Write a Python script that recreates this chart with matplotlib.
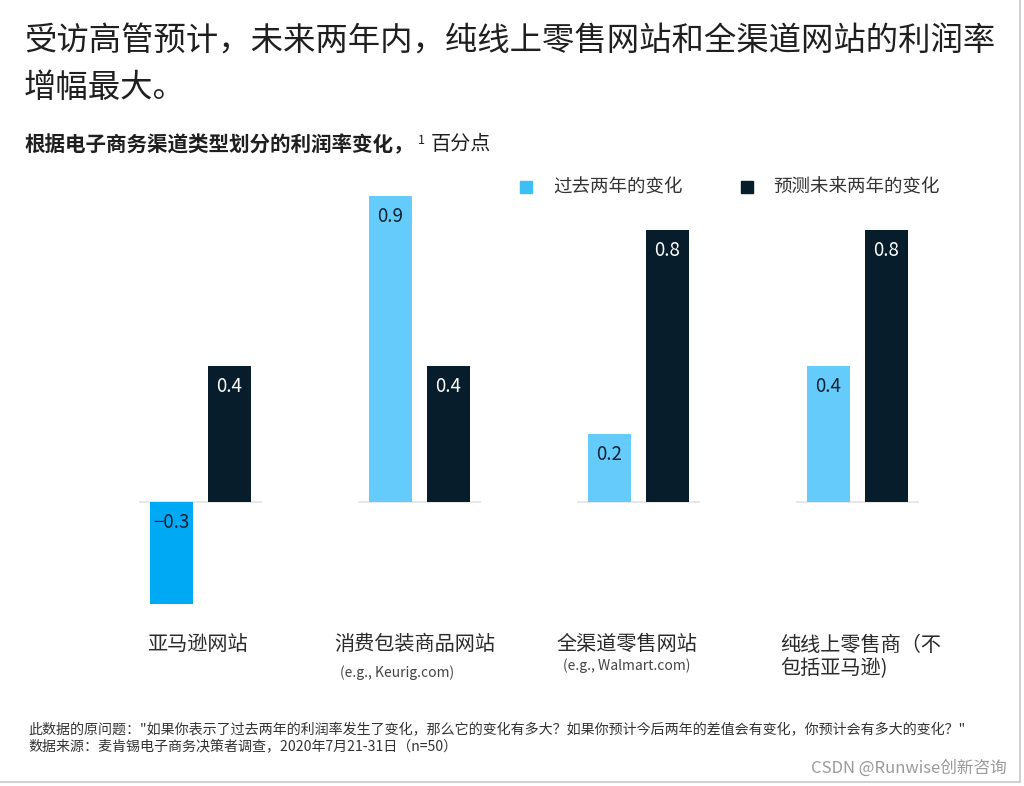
import numpy as np
import matplotlib
matplotlib.use("Agg")
import matplotlib.pyplot as plt
from matplotlib.lines import Line2D

plt.rcParams['font.family'] = ['Noto Sans CJK SC', 'DejaVu Sans']

categories = ["亚马逊网站", "消费包装商品网站", "全渠道零售网站", "纯线上零售商（不\n包括亚马逊)"]
examples = ["", "(e.g., Keurig.com)", "(e.g., Walmart.com)", ""]
past = [-0.3, 0.9, 0.2, 0.4]
future = [0.4, 0.4, 0.8, 0.8]
series_names = ["过去两年的变化", "预测未来两年的变化"]
past_labels = ["−0.3", "0.9", "0.2", "0.4"]
future_labels = ["0.4", "0.4", "0.8", "0.8"]

W, H = 1024, 786
light = "#64CBFA"
neg = "#00A9F4"
dark = "#071D2C"
txt = "#1F1F1F"


def fx(px):
    return px / W


def fy(py):
    return 1 - py / H


fig = plt.figure(figsize=(W / 100, H / 100), dpi=100)
ax = fig.add_axes([0, 0, 1, 1])
ax.axis('off')
# group spacing 219px, baseline at y=502px, 340px per unit
ax.set_xlim(-200 / 219, 824 / 219)
ax.set_ylim(-(H - 502) / 340, 502 / 340)

x = np.arange(len(categories))
off = 29 / 219
bw = 43 / 219
past_colors = [neg if v < 0 else light for v in past]
ax.bar(x - off, past, bw, color=past_colors, zorder=2)
ax.bar(x + off, future, bw, color=dark, zorder=2)
for i in x:
    ax.plot([i - 60 / 219, i + 61 / 219], [0, 0], color="#E3E3E3", lw=1.2, zorder=1)

for i in x:
    yv = past[i]
    ytxt = yv - 20 / 340 if yv > 0 else -20 / 340
    ax.text(i - off, ytxt, past_labels[i], ha='center', va='center', fontsize=13.5, color="#0B2233", zorder=3)
    ax.text(i + off, future[i] - 20 / 340, future_labels[i], ha='center', va='center', fontsize=13.5, color="white", zorder=3)

# category labels
label_x = [197, 415, 627, 780]
for i, name in enumerate(categories):
    if i == 3:
        fig.text(fx(label_x[i]), fy(635), name, ha='left', va='top', fontsize=14.5, color="#2A2A2A", linespacing=1.1)
    else:
        fig.text(fx(label_x[i]), fy(644), name, ha='center', va='center', fontsize=14.5, color="#2A2A2A")
fig.text(fx(397), fy(673), examples[1], ha='center', va='center', fontsize=10, color="#444444")
fig.text(fx(627), fy(666), examples[2], ha='center', va='center', fontsize=10, color="#444444")

# title
fig.text(fx(24), fy(42), "受访高管预计，未来两年内，纯线上零售网站和全渠道网站的利润率",
         ha='left', va='center', fontsize=23.3, color=txt)
fig.text(fx(24), fy(88), "增幅最大。", ha='left', va='center', fontsize=23.3, color=txt)

# subtitle
fig.text(fx(24), fy(145), "根据电子商务渠道类型划分的利润率变化，", ha='left', va='center',
         fontsize=14.8, fontweight='bold', color=txt)
fig.text(fx(418), fy(140), "1", ha='left', va='center', fontsize=9, color=txt)
fig.text(fx(431), fy(145), "百分点", ha='left', va='center', fontsize=14.5, color=txt)

# legend
fig.patches.append(plt.Rectangle((fx(520), fy(193)), 12 / W, 12 / H, color="#3BBFF5",
                                 transform=fig.transFigure, figure=fig))
fig.patches.append(plt.Rectangle((fx(741), fy(193)), 12 / W, 12 / H, color=dark,
                                 transform=fig.transFigure, figure=fig))
fig.text(fx(553), fy(187), series_names[0], ha='left', va='center', fontsize=13.3, color="#333333")
fig.text(fx(773), fy(187), series_names[1], ha='left', va='center', fontsize=13.3, color="#333333")

# notes
fig.text(fx(28), fy(730), "此数据的原问题：\"如果你表示了过去两年的利润率发生了变化，那么它的变化有多大？如果你预计今后两年的差值会有变化，你预计会有多大的变化？\"",
         ha='left', va='center', fontsize=10.1, color="#333333")
fig.text(fx(28), fy(746), "数据来源：麦肯锡电子商务决策者调查，2020年7月21-31日（n=50）",
         ha='left', va='center', fontsize=10.1, color="#333333")
fig.text(fx(1007), fy(768), "CSDN @Runwise创新咨询", ha='right', va='center', fontsize=12, color="#9A9A9A")

# frame edges
fig.add_artist(Line2D([fx(1020), fx(1020)], [fy(0), fy(782)], color="#C8C8C8", lw=1.2))
fig.add_artist(Line2D([0, fx(1020)], [fy(782), fy(782)], color="#C8C8C8", lw=1.2))

fig.savefig("out.png", dpi=100, facecolor="white")
